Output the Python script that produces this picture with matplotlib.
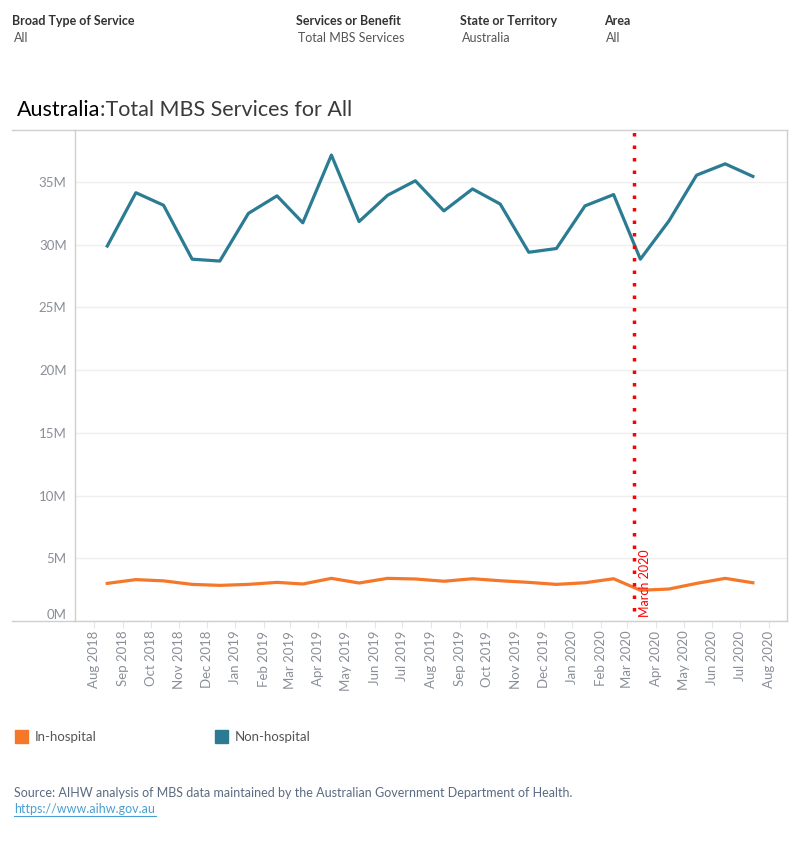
import numpy as np
import pandas as pd
import matplotlib
matplotlib.use('Agg')
import matplotlib.pyplot as plt
import matplotlib.dates as mdates
from matplotlib.lines import Line2D
from matplotlib.patches import Rectangle

plt.rcParams['font.family'] = ['Lato', 'DejaVu Sans']

# monthly MBS services (millions), Aug 2018 - Jul 2020
months = pd.period_range('2018-08', '2020-07', freq='M')
non_hospital = [29.9, 34.15, 33.15, 28.85, 28.7, 32.5, 33.9, 31.75, 37.15, 31.85, 33.95, 35.1,
                32.7, 34.45, 33.25, 29.4, 29.7, 33.1, 34.0, 28.85, 31.9, 35.55, 36.45, 35.45]
in_hospital = [3.0, 3.3, 3.2, 2.92, 2.84, 2.92, 3.08, 2.95, 3.4, 3.03, 3.4, 3.35,
               3.17, 3.37, 3.21, 3.08, 2.92, 3.05, 3.37, 2.45, 2.55, 3.0, 3.4, 3.05]
series_names = ['In-hospital', 'Non-hospital']
series_colors = ['#f5772a', '#2b7c93']
marker_date = '2020-03-08'
marker_label = 'March 2020'

filters = [('Broad Type of Service', 'All'), ('Services or Benefit', 'Total MBS Services'),
           ('State or Territory', 'Australia'), ('Area', 'All')]
filter_x = [12, 296, 460, 604]

W, H = 800, 850
fig = plt.figure(figsize=(8, 8.5), dpi=100)

def fx(px):
    return px / W

def fy(py):
    return 1 - py / H

# filter header
for (name, val), x in zip(filters, filter_x):
    fig.text(fx(x), fy(21), name, fontsize=9, fontweight='bold', color='#333333', va='center')
    fig.text(fx(x + 2), fy(38), val, fontsize=9, color='#555555', va='center')

# title
t1 = fig.text(fx(17), fy(116), 'Australia', fontsize=15.5, color='#000000', va='baseline')
fig.canvas.draw()
bb = t1.get_window_extent()
fig.text(bb.x1 / fig.bbox.width, fy(116), ':Total MBS Services for All', fontsize=15.5,
         color='#3a3a3a', va='baseline')

ax = fig.add_axes([fx(75), fy(621), fx(787) - fx(75), (621 - 130) / H])

dates = months.to_timestamp() + pd.Timedelta(days=14)
ax.plot(dates, in_hospital, color=series_colors[0], lw=2.3, solid_joinstyle='round', zorder=3)
ax.plot(dates, non_hospital, color=series_colors[1], lw=2.3, solid_joinstyle='round', zorder=3)

ax.set_ylim(0, 39.15)
ax.set_xlim(pd.Timestamp('2018-07-11'), pd.Timestamp('2020-08-21'))
ax.set_yticks(np.arange(0, 36, 5))
ax.set_yticklabels([f'{v:g}M' for v in np.arange(0, 36, 5)])
ax.yaxis.grid(True, color='#efefef', lw=1)
ax.set_axisbelow(True)
ax.tick_params(axis='y', length=0, pad=6, labelsize=9.5, labelcolor='#8a8f98')
ax.get_yticklabels()[0].set_va('bottom')

ax.xaxis.set_major_locator(mdates.MonthLocator())
ax.xaxis.set_major_formatter(mdates.DateFormatter('%b %Y'))
ax.tick_params(axis='x', length=5, color='#e6e6e6', pad=2, labelsize=9.5,
               labelcolor='#8a8f98', labelrotation=90)

for s in ax.spines.values():
    s.set_color('#cfcfcf')
    s.set_linewidth(1)

# frame extension under the y labels
for py in (130, 621):
    fig.add_artist(Line2D([fx(12), fx(75)], [fy(py), fy(py)], color='#cfcfcf', lw=1))

# March 2020 marker
md = pd.Timestamp(marker_date)
ax.axvline(md, ymin=0.02, ymax=1, color='#ff0000', lw=2.5, linestyle=(0, (1, 2.6)), zorder=4)
ax.text(md + pd.Timedelta(days=6), 0.3, marker_label, rotation=90, color='#ff0000',
        fontsize=9, ha='left', va='bottom', zorder=5)

# legend
for name, col, x in zip(series_names, series_colors, [15, 215]):
    fig.add_artist(Rectangle((fx(x), fy(743)), fx(13), 13 / H, color=col))
    fig.text(fx(x + 20), fy(737), name, fontsize=9.5, color='#555555', va='center')

# source
fig.text(fx(14), fy(793), 'Source: AIHW analysis of MBS data maintained by the Australian '
         'Government Department of Health.', fontsize=9, color='#5b6b82', va='center')
fig.text(fx(14), fy(809), 'https://www.aihw.gov.au', fontsize=9, color='#4aa0d0',
         va='center', url='https://www.aihw.gov.au')
fig.add_artist(Line2D([fx(14), fx(156)], [fy(816), fy(816)], color='#4aa0d0', lw=0.8))

fig.savefig('out.png', dpi=100)
